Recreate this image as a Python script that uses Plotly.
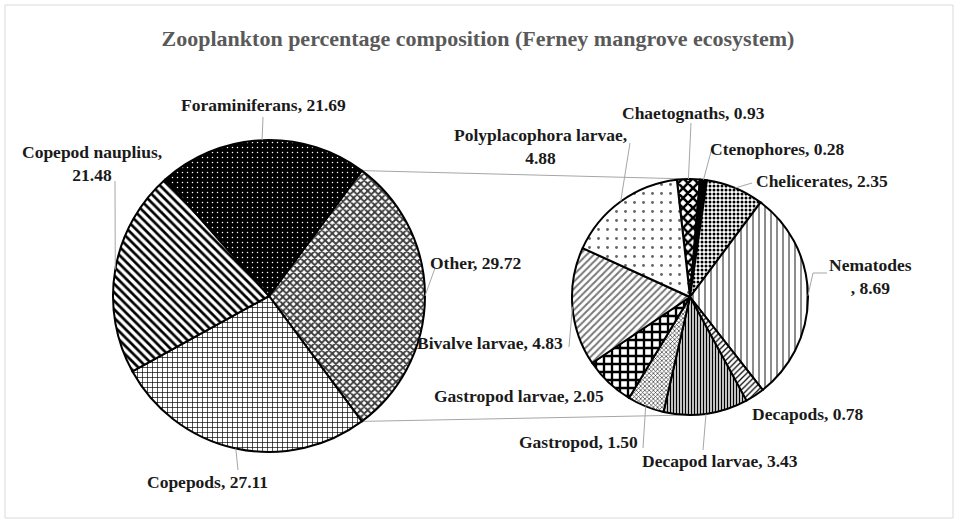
import numpy as np
import plotly.graph_objects as go

W, H = 956, 523

# main pie (clockwise, "Other" is split into the second pie)
main_labels = ['Other', 'Copepods', 'Copepod nauplius', 'Foraminiferans']
main_values = [29.72, 27.11, 21.48, 21.69]

# breakdown of "Other"
sub_labels = ['Chaetognaths', 'Ctenophores', 'Chelicerates', 'Nematodes', 'Decapods',
              'Decapod larvae', 'Gastropod', 'Gastropod larvae', 'Bivalve larvae',
              'Polyplacophora larvae']
sub_values = [0.93, 0.28, 2.35, 8.69, 0.78, 3.43, 1.50, 2.05, 4.83, 4.88]

# pie geometry in pixels
main_c, main_r = (269, 296), 156
sub_c, sub_r = (690, 297), 118
main_rot = 90 - 0.5 * main_values[0] / sum(main_values) * 360
sub_rot = -6.4


def px(x):
    return x / W


def py(y):
    return 1 - y / H


def domain(c, r):
    return dict(x=[px(c[0] - r), px(c[0] + r)], y=[py(c[1] + r), py(c[1] - r)])


def edge_point(c, r, ang):
    a = np.radians(ang)
    return c[0] + r * np.sin(a), c[1] - r * np.cos(a)


def mid_points(values, c, r, rot):
    v = np.array(values) / np.sum(values) * 360
    mids = rot + np.cumsum(v) - v / 2
    return [edge_point(c, r, m) for m in mids]


fig = go.Figure()

fig.add_trace(go.Pie(
    labels=main_labels, values=main_values, sort=False, direction='clockwise',
    rotation=main_rot, domain=domain(main_c, main_r), textinfo='none',
    hoverinfo='label+value', showlegend=False,
    marker=dict(
        colors=['white', 'white', 'white', 'black'],
        line=dict(color='black', width=2),
        pattern=dict(
            shape=['x', '+', '\\', '.'],
            fgcolor=['#3a3a3a', 'black', 'black', 'white'],
            bgcolor=['white', 'white', 'white', 'black'],
            size=[5, 5, 6, 5],
            solidity=[0.6, 0.25, 0.45, 0.07],
            fillmode='replace'),
    ),
))

fig.add_trace(go.Pie(
    labels=sub_labels, values=sub_values, sort=False, direction='clockwise',
    rotation=sub_rot, domain=domain(sub_c, sub_r), textinfo='none',
    hoverinfo='label+value', showlegend=False,
    marker=dict(
        colors=['white', 'black'] + ['white'] * 8,
        line=dict(color='black', width=2),
        pattern=dict(
            shape=['x', '', '.', '|', '/', '|', 'x', '+', '/', '.'],
            fgcolor=['black', 'black', 'black', 'black', 'black', 'black', '#333333',
                     'black', '#777777', '#666666'],
            bgcolor=['white', 'black'] + ['white'] * 8,
            size=[7, 5, 4, 6, 4, 3, 3, 8, 5, 9],
            solidity=[0.6, 0.5, 0.45, 0.15, 0.3, 0.5, 0.4, 0.5, 0.4, 0.08],
            fillmode='replace'),
    ),
))

# label text, text centre and the end of the leader line on the label side
main_text = ['Other, 29.72', 'Copepods, 27.11', 'Copepod nauplius,<br>21.48',
             'Foraminiferans, 21.69']
main_pos = [(475, 263), (207, 482), (92, 163), (263, 105)]
main_lead = [[(435, 268)], [(238, 470)], [(115, 181)], [(263, 117)]]

sub_text = ['Chaetognaths, 0.93', 'Ctenophores, 0.28', 'Chelicerates, 2.35',
            'Nematodes<br>, 8.69', 'Decapods, 0.78', 'Decapod larvae, 3.43',
            'Gastropod, 1.50', 'Gastropod larvae, 2.05', 'Bivalve larvae, 4.83',
            'Polyplacophora larvae,<br>4.88']
sub_pos = [(693, 113), (777, 149), (822, 181), (870, 276), (808, 414), (720, 461),
           (578, 442), (519, 396), (490, 343), (540, 147)]
sub_lead = [[(691, 123)], [(712, 148)], [(752, 183)], [(813, 273), (827, 273)], None,
            [(703, 450)], [(643, 448)], None, [(569, 347)], [(630, 143)]]

shapes = []
annotations = []
groups = [
    (main_text, main_pos, main_lead, mid_points(main_values, main_c, main_r, main_rot)),
    (sub_text, sub_pos, sub_lead, mid_points(sub_values, sub_c, sub_r, sub_rot)),
]
for texts, poss, leads, anchors in groups:
    for t, p, lead, a in zip(texts, poss, leads, anchors):
        annotations.append(dict(
            text=t, x=px(p[0]), y=py(p[1]), xref='paper', yref='paper',
            showarrow=False, xanchor='center', yanchor='middle',
            font=dict(family='Liberation Serif', size=17.5, color='#1a1a1a', weight='bold'),
        ))
        if lead is None:
            continue
        pts = [a] + lead
        for (x0, y0), (x1, y1) in zip(pts[:-1], pts[1:]):
            shapes.append(dict(type='line', xref='paper', yref='paper',
                               x0=px(x0), y0=py(y0), x1=px(x1), y1=py(y1),
                               line=dict(color='#a6a6a6', width=1)))

# connector lines between the "Other" slice and the second pie
other_deg = main_values[0] / sum(main_values) * 360
p_top = edge_point(main_c, main_r, main_rot)
p_bot = edge_point(main_c, main_r, main_rot + other_deg)
for (x0, y0), (x1, y1) in [(p_top, (sub_c[0], sub_c[1] - sub_r)),
                           (p_bot, (sub_c[0], sub_c[1] + sub_r))]:
    shapes.append(dict(type='line', xref='paper', yref='paper', layer='below',
                       x0=px(x0), y0=py(y0), x1=px(x1), y1=py(y1),
                       line=dict(color='#a6a6a6', width=1)))

# chart border
shapes.append(dict(type='rect', xref='paper', yref='paper', layer='below',
                   x0=px(5), y0=py(518), x1=px(953), y1=py(5),
                   line=dict(color='#d9d9d9', width=1)))

fig.update_layout(
    width=W, height=H,
    margin=dict(l=0, r=0, t=0, b=0),
    paper_bgcolor='white',
    title=dict(text='Zooplankton percentage composition (Ferney mangrove ecosystem)',
               x=0.5, xanchor='center', y=py(38), yanchor='middle',
               font=dict(family='Liberation Serif', size=22, color='#595959',
                         weight='bold')),
    shapes=shapes,
    annotations=annotations,
)

# page has a default body margin; drop it so the chart sits at the window corner
fig.write_html("out.html", config={'displayModeBar': False},
               post_script="document.body.style.margin = '0';")
